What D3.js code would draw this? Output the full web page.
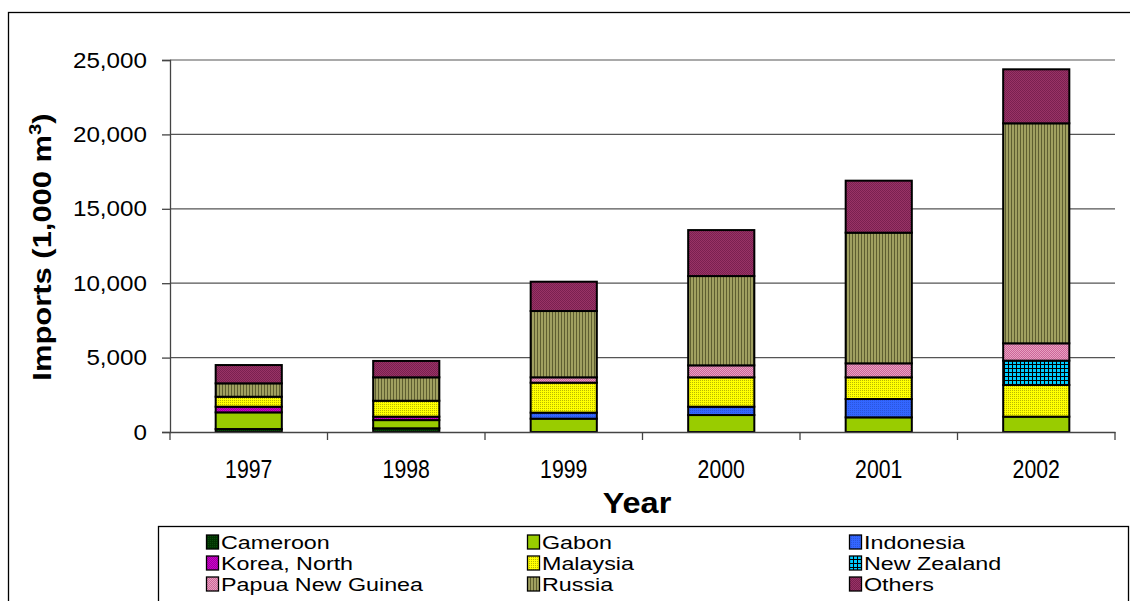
<!DOCTYPE html>
<html><head><meta charset="utf-8">
<script src="https://cdn.jsdelivr.net/npm/d3@7"></script>
<style>
html,body{margin:0;padding:0;background:#fff;}
svg{display:block;font-family:Arial,"Liberation Sans",sans-serif;}
</style></head>
<body>
<svg id="c" width="1130" height="601"></svg>
<script>
const years = ["1997","1998","1999","2000","2001","2002"];
const seriesNames = ["Cameroon","Gabon","Indonesia","Korea, North","Malaysia","New Zealand","Papua New Guinea","Russia","Others"];
const cameroon = [200, 250, 0, 0, 0, 0];
const gabon = [1120, 550, 895, 1140, 985, 1030];
const indonesia = [0, 0, 405, 560, 1233, 0];
const koreaNorth = [380, 230, 0, 0, 0, 0];
const malaysia = [670, 1070, 2015, 1975, 1457, 2130];
const newZealand = [0, 0, 0, 0, 0, 1635];
const papuaNewGuinea = [0, 0, 360, 805, 940, 1165];
const russia = [900, 1575, 4455, 6000, 8780, 14785];
const others = [1230, 1100, 1970, 3090, 3495, 3630];
const yTicks = [0, 5000, 10000, 15000, 20000, 25000];

const seriesValues = [cameroon, gabon, indonesia, koreaNorth, malaysia, newZealand, papuaNewGuinea, russia, others];
const table = years.map((y, i) => {
  const row = {year: y};
  seriesNames.forEach((s, k) => row[s] = seriesValues[k][i]);
  return row;
});

const svg = d3.select("#c");
const defs = svg.append("defs");

function pat(id, w, h, bg, draw) {
  const p = defs.append("pattern").attr("id", id).attr("patternUnits", "userSpaceOnUse")
    .attr("width", w).attr("height", h);
  p.append("rect").attr("width", w).attr("height", h).attr("fill", bg);
  draw(p);
}
function dots(p, c, cells) {
  cells.forEach(([x, y]) => p.append("rect").attr("x", x).attr("y", y).attr("width", 1).attr("height", 1).attr("fill", c));
}
pat("p0", 2, 2, "#003300", p => dots(p, "#0b4a0b", [[0,0]]));
pat("p1", 4, 4, "#99CC00", p => {});
pat("p2", 2, 2, "#3366FF", p => dots(p, "#2a55dd", [[0,0]]));
pat("p3", 2, 2, "#CC00CC", p => dots(p, "#a000a0", [[0,0],[1,1]]));
pat("p4", 2, 2, "#FFFF00", p => dots(p, "#b8b800", [[0,0]]));
pat("p5", 4, 4, "#00CCFF", p => {
  p.append("rect").attr("x",0).attr("y",0).attr("width",4).attr("height",1).attr("fill","#000");
  p.append("rect").attr("x",0).attr("y",0).attr("width",1).attr("height",4).attr("fill","#000");
});
pat("p6", 2, 2, "#CC6699", p => dots(p, "#E8A0C0", [[0,0],[1,1]]));
pat("p7", 3, 3, "#A0A060", p => {
  p.append("rect").attr("x",0).attr("y",0).attr("width",1).attr("height",3).attr("fill","#5e5e30");
});
pat("p8", 2, 2, "#993366", p => dots(p, "#7a2050", [[0,0],[1,1]]));
const fills = seriesNames.map((s, i) => `url(#p${i})`);
const color = d3.scaleOrdinal().domain(seriesNames).range(fills);

// outer frame
svg.append("rect").attr("x", 8.5).attr("y", 12.5).attr("width", 1140).attr("height", 620)
  .attr("fill", "none").attr("stroke", "#000").attr("stroke-width", 1.3);

const x = d3.scaleBand().domain(years).range([170, 1115]).paddingInner(0.58).paddingOuter(0.29);
const y = d3.scaleLinear().domain([0, 25000]).range([432, 60]);

// gridlines
svg.append("g").selectAll("line").data(yTicks.filter(d => d > 0)).join("line")
  .attr("x1", 170).attr("x2", 1115).attr("y1", d => y(d)).attr("y2", d => y(d))
  .attr("stroke", "#555").attr("stroke-width", 1.2);

// stacked bars
const stack = d3.stack().keys(seriesNames);
const stacked = stack(table);
const gBars = svg.append("g");
stacked.forEach(layer => {
  gBars.append("g").attr("fill", color(layer.key))
    .selectAll("rect").data(layer.filter(d => d[1] - d[0] > 0)).join("rect")
    .attr("x", d => x(d.data.year)).attr("width", x.bandwidth())
    .attr("y", d => y(d[1])).attr("height", d => y(d[0]) - y(d[1]))
    .attr("stroke", "#000").attr("stroke-width", 2);
});

// y axis
const yAxis = svg.append("g").attr("transform", "translate(170,0)")
  .call(d3.axisLeft(y).tickValues(yTicks).tickSize(8).tickPadding(14).tickFormat(d3.format(",")));
yAxis.select(".domain").attr("stroke", "#444").attr("stroke-width", 1.3);
yAxis.selectAll(".tick line").attr("stroke", "#444").attr("stroke-width", 1.3);
yAxis.selectAll("text").attr("font-size", 22).attr("fill", "#000")
  .attr("font-family", "Arial, Liberation Sans, sans-serif")
  .attr("x", -21).attr("transform", "scale(1.1,1)");

// x axis
const xAxis = svg.append("g").attr("transform", "translate(0,432)")
  .call(d3.axisBottom(x).tickSize(0).tickPadding(28));
xAxis.select(".domain").attr("stroke", "#444").attr("stroke-width", 1.3);
xAxis.selectAll("text").attr("font-size", 25).attr("fill", "#000")
  .attr("font-family", "Arial, Liberation Sans, sans-serif")
  .attr("transform", "scale(0.85,1)");
const bounds = d3.range(years.length + 1).map(i => x.range()[0] + i * x.step());
svg.append("g").selectAll("line").data(bounds).join("line")
  .attr("x1", d => d).attr("x2", d => d).attr("y1", 432).attr("y2", 440)
  .attr("stroke", "#444").attr("stroke-width", 1.3);

// axis titles
svg.append("text").attr("transform", "translate(637,513) scale(1.12,1)").attr("text-anchor", "middle")
  .attr("font-size", 29).attr("font-weight", "bold").text("Year");
const yt = svg.append("text").attr("transform", "translate(51,247) rotate(-90) scale(1.19,1)")
  .attr("text-anchor", "middle").attr("font-size", 26).attr("font-weight", "bold");
yt.append("tspan").text("Imports (1,000 m");
yt.append("tspan").attr("dy", -10).attr("font-size", 17).text("3");
yt.append("tspan").attr("dy", 10).text(")");

// legend
svg.append("rect").attr("x", 158.5).attr("y", 526.5).attr("width", 970).attr("height", 100)
  .attr("fill", "#fff").attr("stroke", "#000").attr("stroke-width", 1.3);
const colX = [206, 527, 849];
const rowY = [542, 563, 584];
const lg = svg.append("g").selectAll("g").data(seriesNames).join("g")
  .attr("transform", (d, i) => `translate(${colX[i % 3]},${rowY[Math.floor(i / 3)]})`);
lg.append("rect").attr("x", 0.5).attr("y", -7).attr("width", 12).attr("height", 14)
  .attr("fill", d => color(d)).attr("stroke", "#000").attr("stroke-width", 1.3);
lg.append("text").attr("x", 15 / 1.26).attr("y", 7).attr("font-size", 18.5)
  .attr("transform", "scale(1.26,1)").text(d => d);
</script>
</body></html>
